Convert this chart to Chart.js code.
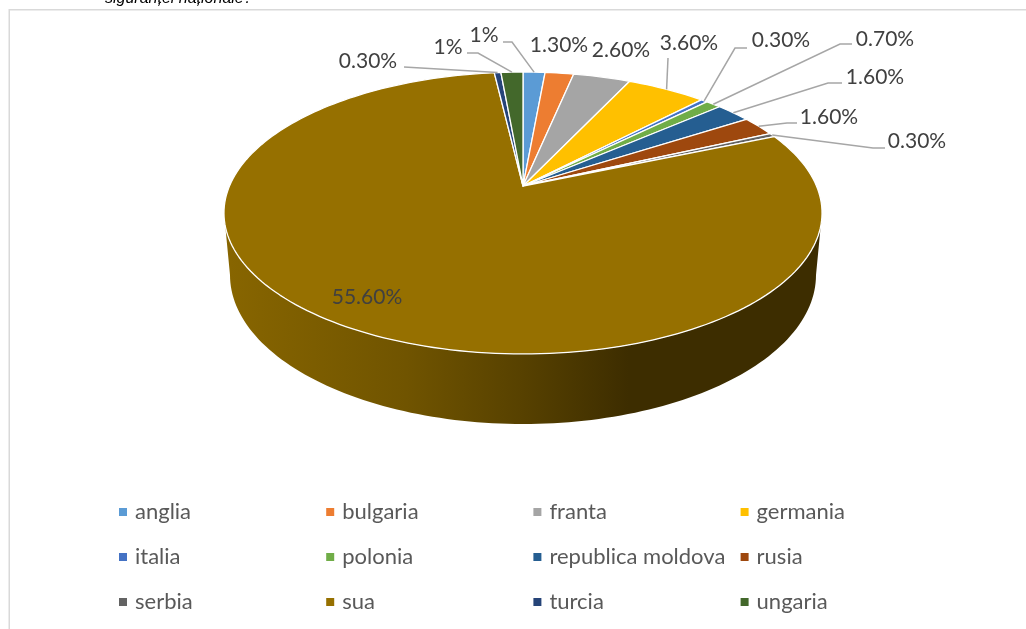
<!DOCTYPE html>
<html>
<head>
<meta charset="utf-8">
<title>pie</title>
<script src="https://cdn.jsdelivr.net/npm/chart.js@4/dist/chart.umd.min.js"></script>
<style>
  html, body { margin: 0; background: #fff; }
  canvas { display: block; }
</style>
</head>
<body>
<canvas id="pie" width="1026" height="629"></canvas>
<script>
var categories = ['anglia', 'bulgaria', 'franta', 'germania', 'italia', 'polonia',
  'republica moldova', 'rusia', 'serbia', 'sua', 'turcia', 'ungaria'];
var percents = [1, 1.3, 2.6, 3.6, 0.3, 0.7, 1.6, 1.6, 0.3, 55.6, 0.3, 1];
var colors = ['#5b9bd5', '#ed7d31', '#a5a5a5', '#ffc000', '#4472c4', '#70ad47',
  '#255e91', '#9e480e', '#636363', '#967000', '#264478', '#43682b'];

// layout only: where each value label sits, and the bend of its leader line (null = no leader)
var labelCentres = [[498, 35], [559, 45], [621, 50], [689, 43], [781, 40], [885, 39],
  [875, 77], [829, 117], [917, 141], [367, 297], [368, 61], [448, 47]];
var leaderBends = [[[503, 42], [512, 42]], null, null, [[668, 58], [668, 58]],
  [[747, 48], [735, 48]], [[852, 44], [840, 44]], [[842, 83], [828, 83]],
  [[797, 123], [787, 123]], [[885, 148], [873, 148]], null, [[404, 67], [404, 67]],
  [[467, 53], [478, 53]]];
labelCentres[0][0] = 484;

var LABEL_FONT = '21px Lato';
var LEGEND_FONT = '22px Lato';

// the disc is seen in perspective, so the apex is not the middle of the ellipse
var TILT = 0.1915, STRETCH_X = 293.5, STRETCH_Y = 135.8;

function project(el, angle) {
  var x = Math.cos(angle), y = Math.sin(angle);
  var w = 1 - TILT * y;
  return [el.x + STRETCH_X * x / w, el.y + STRETCH_Y * y / w];
}

var formatPercent = function (v) {
  return (Number.isInteger(v) ? v : v.toFixed(2)) + '%';
};

var drawWall = function (ctx, el) {
  // front side of the cake, between the two points where top rim and bottom rim are joined
  var cx = el.x, cy = 275, rx = 293, ry = 149;
  var i, p, steps = 120;
  var grad = ctx.createLinearGradient(cx - rx, 0, cx + rx, 0);
  grad.addColorStop(0, '#876500');
  grad.addColorStop(0.3, '#705400');
  grad.addColorStop(0.5, '#574100');
  grad.addColorStop(0.68, '#3d2d00');
  grad.addColorStop(1, '#3d2d00');
  ctx.beginPath();
  var a0 = Math.PI * 0.06, a1 = Math.PI * 0.94;
  for (i = 0; i <= steps; i++) {
    p = project(el, a0 + (a1 - a0) * i / steps);
    if (i === 0) ctx.moveTo(p[0], p[1]); else ctx.lineTo(p[0], p[1]);
  }
  for (i = 0; i <= steps; i++) {
    var t = Math.PI - Math.PI * i / steps;
    ctx.lineTo(cx + rx * Math.cos(t), cy + ry * Math.sin(t));
  }
  ctx.closePath();
  ctx.fillStyle = grad;
  ctx.fill();
};

var perspectivePie = {
  id: 'perspectivePie',
  beforeDraw: function (chart) {
    var ctx = chart.ctx;
    ctx.save();
    ctx.fillStyle = '#fff';
    ctx.fillRect(0, 0, chart.width, chart.height);
    ctx.strokeStyle = '#d9d9d9';
    ctx.lineWidth = 1.5;
    ctx.beginPath();
    ctx.moveTo(9.25, chart.height);
    ctx.lineTo(9.25, 9.75);
    ctx.lineTo(chart.width, 9.75);
    ctx.stroke();
    // question text from the page above the chart, cut by the top edge
    ctx.fillStyle = '#000';
    ctx.font = 'italic 16px "Liberation Sans"';
    ctx.textBaseline = 'alphabetic';
    ctx.fillText('siguranței naționale?', 105, 3);
    ctx.restore();
  },
  beforeDatasetDraw: function (chart, args) {
    var ctx = chart.ctx, arcs = args.meta.data;
    ctx.save();
    drawWall(ctx, arcs[0]);
    arcs.forEach(function (el, i) {
      var steps = Math.max(2, Math.ceil((el.endAngle - el.startAngle) * 40));
      ctx.beginPath();
      ctx.moveTo(el.x, el.y);
      for (var s = 0; s <= steps; s++) {
        var p = project(el, el.startAngle + (el.endAngle - el.startAngle) * s / steps);
        ctx.lineTo(p[0], p[1]);
      }
      ctx.closePath();
      ctx.fillStyle = colors[i];
      ctx.fill();
      ctx.strokeStyle = '#fff';
      ctx.lineWidth = 1.3;
      ctx.lineJoin = 'round';
      ctx.stroke();
    });
    ctx.restore();
    return false;
  },
  afterDatasetsDraw: function (chart) {
    var ctx = chart.ctx, arcs = chart.getDatasetMeta(0).data;
    ctx.save();
    ctx.strokeStyle = '#a6a6a6';
    ctx.lineWidth = 1.5;
    arcs.forEach(function (el, i) {
      if (!leaderBends[i]) return;
      var p = project(el, (el.startAngle + el.endAngle) / 2);
      ctx.beginPath();
      ctx.moveTo(leaderBends[i][0][0], leaderBends[i][0][1]);
      ctx.lineTo(leaderBends[i][1][0], leaderBends[i][1][1]);
      ctx.lineTo(p[0], p[1]);
      ctx.stroke();
    });
    ctx.font = LABEL_FONT;
    ctx.fillStyle = '#404040';
    ctx.textAlign = 'center';
    ctx.textBaseline = 'middle';
    percents.forEach(function (v, i) {
      ctx.fillText(formatPercent(v), labelCentres[i][0], labelCentres[i][1]);
    });
    // legend, four columns by three rows
    ctx.font = LEGEND_FONT;
    ctx.textAlign = 'left';
    categories.forEach(function (name, i) {
      var col = i % 4, row = Math.floor(i / 4);
      var x = 119 + col * 207.2, y = 512 + row * 45;
      ctx.fillStyle = colors[i];
      ctx.fillRect(x, y - 4, 8, 8);
      ctx.fillStyle = '#595959';
      ctx.fillText(name, x + 16, y);
    });
    ctx.restore();
  }
};

var chart = new Chart(document.getElementById('pie').getContext('2d'), {
  type: 'pie',
  data: {
    labels: categories,
    datasets: [{ data: percents, backgroundColor: colors, borderColor: '#fff', borderWidth: 1 }]
  },
  options: {
    responsive: false,
    animation: false,
    // puts the centre of the chart area on the apex of the pie
    layout: { padding: { left: 337, right: 317, top: 0, bottom: 257 } },
    plugins: { legend: { display: false }, tooltip: { enabled: false } }
  },
  plugins: [perspectivePie]
});
</script>
</body>
</html>
